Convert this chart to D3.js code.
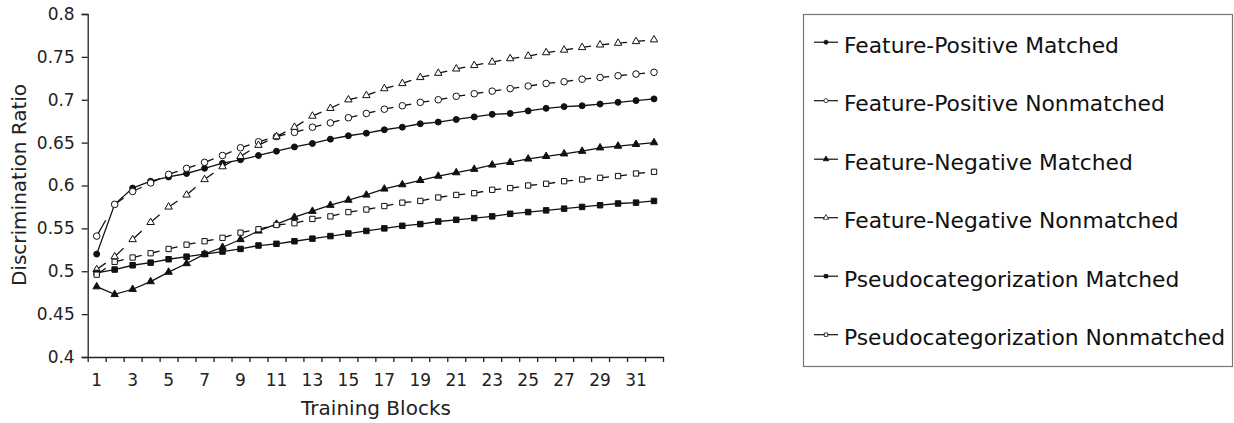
<!DOCTYPE html>
<html>
<head>
<meta charset="utf-8">
<script src="https://cdn.jsdelivr.net/npm/d3@7/dist/d3.min.js"></script>
<style>
  html, body { margin: 0; padding: 0; background: #fff; }
  svg { display: block; font-family: "DejaVu Sans", Verdana, sans-serif; }
</style>
</head>
<body>
<svg id="chart" width="1234" height="423"></svg>
<script>
const blocks = d3.range(1, 33);
const xTickLabels = [1,3,5,7,9,11,13,15,17,19,21,23,25,27,29,31];
const yTicks = [0.4,0.45,0.5,0.55,0.6,0.65,0.7,0.75,0.8];

const fpMatched = [0.520,0.578,0.597,0.605,0.610,0.614,0.620,0.626,0.630,0.635,0.640,0.645,0.649,0.654,
  0.658,0.661,0.665,0.668,0.672,0.674,0.677,0.680,0.683,0.684,0.687,0.690,0.692,0.693,0.695,0.697,0.699,0.701];
const fpNonmatched = [0.541,0.578,0.593,0.603,0.613,0.620,0.627,0.635,0.644,0.651,0.657,0.662,0.668,0.673,
  0.679,0.684,0.689,0.693,0.697,0.700,0.704,0.707,0.710,0.713,0.716,0.719,0.721,0.724,0.726,0.728,0.730,0.732];
const fnMatched = [0.482,0.473,0.479,0.488,0.499,0.509,0.520,0.528,0.537,0.547,0.555,0.563,0.570,0.577,
  0.583,0.589,0.596,0.601,0.606,0.611,0.615,0.619,0.624,0.627,0.631,0.634,0.637,0.640,0.644,0.646,0.648,0.650];
const fnNonmatched = [0.502,0.517,0.537,0.557,0.575,0.589,0.607,0.622,0.634,0.647,0.657,0.668,0.681,0.690,
  0.700,0.705,0.713,0.719,0.726,0.731,0.736,0.740,0.744,0.748,0.751,0.755,0.758,0.761,0.764,0.766,0.768,0.770];
const psMatched = [0.498,0.502,0.507,0.510,0.514,0.517,0.520,0.523,0.526,0.530,0.532,0.535,0.538,0.541,
  0.544,0.547,0.550,0.553,0.555,0.558,0.560,0.562,0.564,0.567,0.569,0.571,0.573,0.575,0.577,0.579,0.580,0.582];
const psNonmatched = [0.496,0.511,0.516,0.521,0.526,0.531,0.535,0.539,0.545,0.549,0.554,0.556,0.561,0.564,
  0.569,0.572,0.576,0.580,0.582,0.586,0.589,0.591,0.595,0.597,0.600,0.602,0.605,0.607,0.609,0.611,0.614,0.616];

const seriesNames = ["Feature-Positive Matched","Feature-Positive Nonmatched","Feature-Negative Matched",
  "Feature-Negative Nonmatched","Pseudocategorization Matched","Pseudocategorization Nonmatched"];
const seriesValues = [fpMatched, fpNonmatched, fnMatched, fnNonmatched, psMatched, psNonmatched];
const seriesShapes = ["circle","circle","triangle","triangle","square","square"];
const seriesFilled = [true,false,true,false,true,false];

const FONT = '"DejaVu Sans", Verdana, sans-serif';
const svg = d3.select("#chart");
const x0 = 87.7, x1 = 663, yTop = 14, yBot = 357;

const x = d3.scaleBand().domain(blocks).range([x0, x1]);
const xEdge = d3.scaleLinear().domain([0, 32]).range([x0, x1]);
const y = d3.scaleLinear().domain([0.4, 0.8]).range([yBot, yTop]);
const cx = b => x(b) + x.bandwidth() / 2;

// y axis
const gy = svg.append("g").attr("transform", `translate(${x0},0)`)
  .call(d3.axisLeft(y).tickValues(yTicks).tickFormat(d => String(+d.toFixed(2))).tickSize(6).tickPadding(7));
gy.attr("font-family", FONT);
gy.selectAll("text").style("font-size", "17px").style("font-family", FONT).attr("fill", "#222");
gy.selectAll("line, path").attr("stroke", "#222").attr("stroke-width", 1.3);

// x axis: tick marks at band edges
const gxt = svg.append("g").attr("transform", `translate(0,${yBot})`)
  .call(d3.axisBottom(xEdge).tickValues(d3.range(0, 33)).tickFormat("").tickSize(5).tickSizeOuter(0));
gxt.selectAll("line, path").attr("stroke", "#222").attr("stroke-width", 1.3);
// x labels
const gxl = svg.append("g").attr("transform", `translate(0,${yBot})`)
  .call(d3.axisBottom(x).tickValues(xTickLabels).tickSize(0).tickPadding(17));
gxl.attr("font-family", FONT);
gxl.select(".domain").remove();
gxl.selectAll("text").style("font-size", "17px").style("font-family", FONT).attr("fill", "#222");

// titles
svg.append("text").attr("x", 376).attr("y", 415).attr("text-anchor", "middle")
  .style("font-size", "20px").attr("fill", "#222").text("Training Blocks");
svg.append("text").attr("transform", "translate(26,185) rotate(-90)").attr("text-anchor", "middle")
  .style("font-size", "20px").attr("fill", "#222").text("Discrimination Ratio");

const symType = { circle: d3.symbolCircle, triangle: d3.symbolTriangle, square: d3.symbolSquare };
const symSizeFilled = { circle: 28, triangle: 24, square: 30 };
const symSizeOpen = { circle: 34, triangle: 24, square: 28 };

seriesValues.forEach((vals, s) => {
  const g = svg.append("g");
  const pts = vals.map((v, i) => [cx(blocks[i]), y(v)]);
  if (seriesFilled[s]) {
    g.append("path").datum(pts).attr("d", d3.line()).attr("fill", "none")
      .attr("stroke", "#111").attr("stroke-width", 1.3);
  } else {
    // Excel-style dashes: a short dash after each marker
    const segs = d3.pairs(pts);
    g.selectAll("path.seg").data(segs).join("path").attr("class", "seg")
      .attr("d", d => d3.line()(d)).attr("fill", "none")
      .attr("stroke", "#111").attr("stroke-width", 1.3)
      .attr("stroke-dasharray", d => {
        const L = Math.hypot(d[1][0] - d[0][0], d[1][1] - d[0][1]);
        return `${(L * 0.5).toFixed(2)},${L.toFixed(2)}`;
      });
  }
  const sizes = seriesFilled[s] ? symSizeFilled : symSizeOpen;
  g.selectAll("path.m").data(pts).join("path").attr("class", "m")
    .attr("transform", d => `translate(${d[0]},${d[1]})`)
    .attr("d", d3.symbol().type(symType[seriesShapes[s]]).size(sizes[seriesShapes[s]]))
    .attr("fill", seriesFilled[s] ? "#111" : "#fff").attr("stroke", "#111").attr("stroke-width", 1);
});

// legend
const lg = svg.append("g");
lg.append("rect").attr("x", 803.5).attr("y", 14.5).attr("width", 429).attr("height", 352)
  .attr("fill", "#fff").attr("stroke", "#777").attr("stroke-width", 1.2);
const legSize = { circle: 13, triangle: 13, square: 12 };
seriesNames.forEach((name, s) => {
  const base = 52.7 + s * 58.5;
  const cy = base - 10.5;
  lg.append("line").attr("x1", 814).attr("x2", 838).attr("y1", cy).attr("y2", cy)
    .attr("stroke", "#111").attr("stroke-width", 1.2);
  lg.append("path").attr("transform", `translate(826,${cy})`)
    .attr("d", d3.symbol().type(symType[seriesShapes[s]]).size(legSize[seriesShapes[s]]))
    .attr("fill", seriesFilled[s] ? "#111" : "#fff").attr("stroke", "#111").attr("stroke-width", 0.8);
  lg.append("text").attr("x", 844).attr("y", base).style("font-size", "21.8px").attr("fill", "#111").text(name);
});
</script>
</body>
</html>
